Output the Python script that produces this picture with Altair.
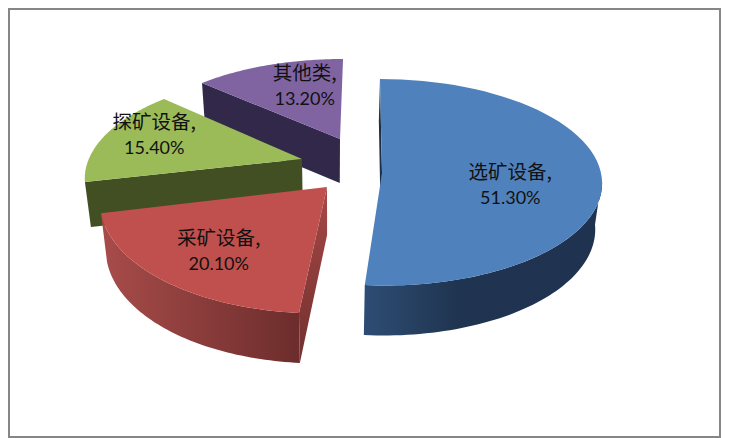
import math
import altair as alt
import pandas as pd

names = ["选矿设备", "采矿设备", "探矿设备", "其他类"]
shares = [51.3, 20.1, 15.4, 13.2]
top_colors = ["#4f81bd", "#c0504d", "#9bbb59", "#8064a2"]

# projection of each exploded slice: apex, radii, shear, perspective, wall depth
apex = {"选矿设备": (382, 173), "采矿设备": (327, 187), "探矿设备": (302, 159), "其他类": (340, 139)}
radii = {"选矿设备": (219, 102.4, 2.2, .09), "采矿设备": (225.6, 115, -7.1, .09),
         "探矿设备": (213.2, 98.7, -5.7, .165), "其他类": (205.5, 89.7, -3.4, .121)}
depth = {"选矿设备": (46, 4), "采矿设备": (48, 2), "探矿设备": (45, 0), "其他类": (44, 0)}
label_pos = {"选矿设备": (.578, .125), "采矿设备": (-.44, .535), "探矿设备": (-.727, -.24), "其他类": (-.195, -.62)}

VANISH_X, SHRINK = 330, .975

starts, a = {}, 0.0
for n, s in zip(names, shares):
    starts[n] = (a, a + s * 3.6)
    a += s * 3.6


def top_pt(n, X, Z):
    ax, ay = apex[n]
    rx, ry, sh, p = radii[n]
    w = 1 - p * Z
    return ax + (rx * X + sh * Z) / w, ay + ry * Z / w


def rim(n, deg):
    t = math.radians(deg)
    return math.sin(t), -math.cos(t)


def low_pt(n, X, Z):
    x, y = top_pt(n, X, Z)
    d0, d1 = depth[n]
    return VANISH_X + (x - VANISH_X) * (1 + (SHRINK - 1) * abs(d0 + d1 * Z) / 46), y + d0 + d1 * Z


def arc(n, a0, a1, steps=60):
    return [rim(n, a0 + (a1 - a0) * i / steps) for i in range(steps + 1)]


xs = alt.Scale(domain=[9, 720], nice=False, zero=False)
ys = alt.Scale(domain=[437, 9], nice=False, zero=False)


def poly(points, fill):
    df = pd.DataFrame({"x": [p[0] for p in points], "y": [p[1] for p in points], "i": range(len(points))})
    return alt.Chart(df).mark_line(fill=fill, strokeWidth=0).encode(
        x=alt.X("x:Q", scale=xs, axis=None),
        y=alt.Y("y:Q", scale=ys, axis=None),
        order="i:Q",
    )


def top_face(n, color):
    a0, a1 = starts[n]
    return poly([top_pt(n, 0, 0)] + [top_pt(n, *q) for q in arc(n, a0, a1)], color)


def cut_face(n, deg, fill):
    X, Z = rim(n, deg)
    return poly([top_pt(n, 0, 0), top_pt(n, X, Z), low_pt(n, X, Z), low_pt(n, 0, 0)], fill)


def outer_wall(n, a0, a1, fill):
    q = arc(n, a0, a1)
    return poly([top_pt(n, *c) for c in q] + [low_pt(n, *c) for c in reversed(q)], fill)


def grad(c0, c1, mid=None, horizontal=True):
    stops = [alt.GradientStop(color=c0, offset=0)]
    if mid:
        stops.append(alt.GradientStop(color=mid[0], offset=mid[1]))
    stops.append(alt.GradientStop(color=c1, offset=1))
    return alt.Gradient(gradient="linear", stops=stops, x1=0, y1=0, x2=1 if horizontal else 0, y2=0 if horizontal else 1)


layers = [
    cut_face("其他类", starts["其他类"][0], "#32284a"),
    top_face("其他类", top_colors[3]),
    cut_face("探矿设备", starts["探矿设备"][0], "#414f22"),
    top_face("探矿设备", top_colors[2]),
    cut_face("选矿设备", 0, "#1d2f49"),
    outer_wall("选矿设备", 93, starts["选矿设备"][1], grad("#2e4d73", "#1f3350", ("#1f3450", .4))),
    top_face("选矿设备", top_colors[0]),
    outer_wall("采矿设备", *starts["采矿设备"], grad("#a84c4a", "#6c2d2c")),
    cut_face("采矿设备", starts["采矿设备"][0], grad("#a84846", "#70302f", horizontal=False)),
    top_face("采矿设备", top_colors[1]),
]

rows = []
for n, s in zip(names, shares):
    x, y = top_pt(n, *label_pos[n])
    rows.append({"x": x, "y": y - 13, "t": n + ","})
    rows.append({"x": x, "y": y + 13, "t": f"{s:.2f}%"})
labels = pd.DataFrame(rows)
cjk = labels[labels.t.str.endswith(",")]
num = labels[labels.t.str.endswith("%")]
for d, font, size in ((cjk, "Noto Sans CJK SC", 19.5), (num, "Lato", 18)):
    layers.append(alt.Chart(d).mark_text(font=font, fontSize=size, color="#111111").encode(
        x=alt.X("x:Q", scale=xs, axis=None),
        y=alt.Y("y:Q", scale=ys, axis=None),
        text="t:N",
    ))

chart = alt.layer(*layers).properties(
    width=711, height=428,
    padding={"left": 1, "top": 1, "right": 1, "bottom": 1},
    autosize=alt.AutoSizeParams(type="none"),
    background="white",
    view=alt.ViewConfig(stroke="#868686", strokeWidth=2, fill="white"),
)
chart.save("out.html", embed_options={"renderer": "svg", "actions": False})
